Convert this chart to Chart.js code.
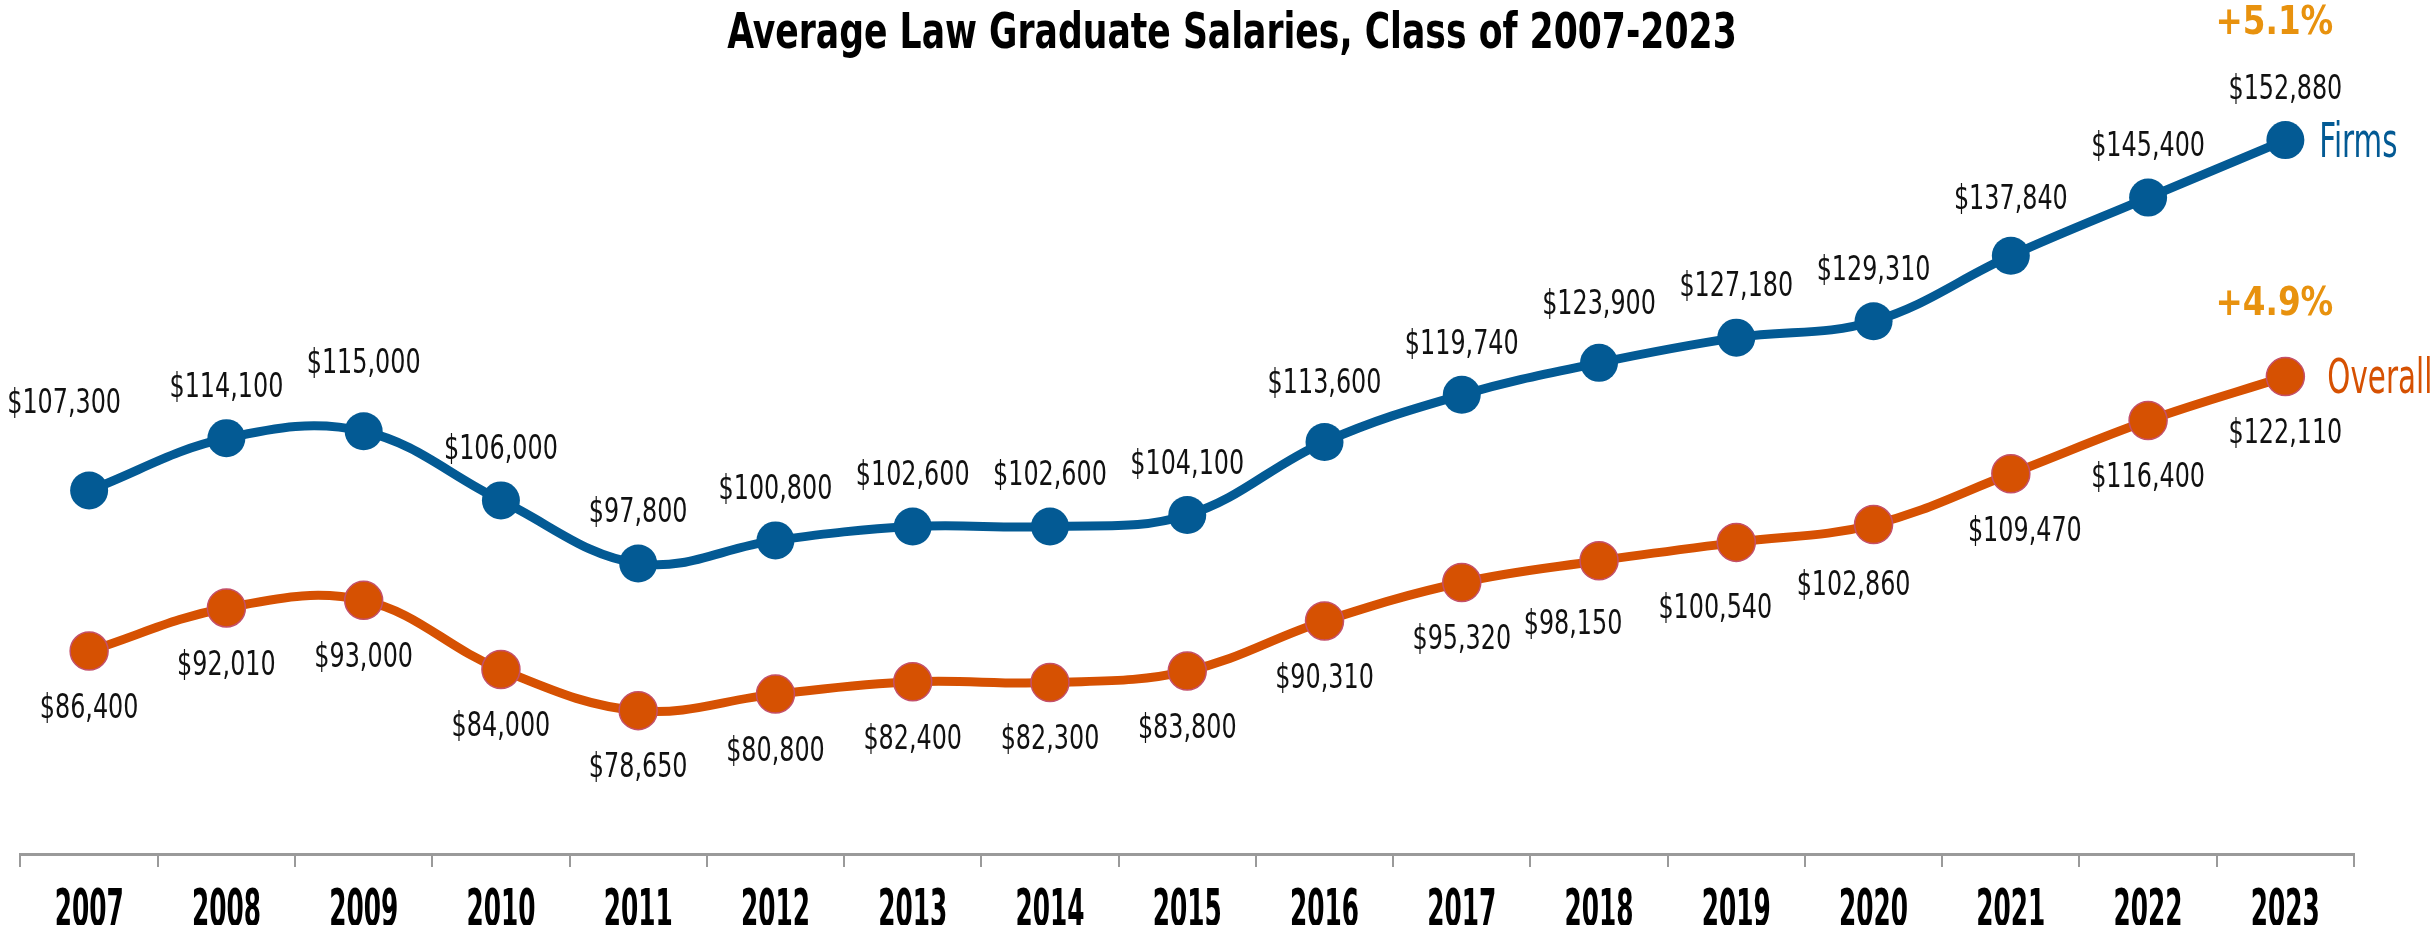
<!DOCTYPE html>
<html>
<head>
<meta charset="utf-8">
<script src="https://cdn.jsdelivr.net/npm/chart.js@4.4.1/dist/chart.umd.min.js"></script>
<style>
  html, body { margin: 0; padding: 0; background: #fff; }
  canvas { display: block; }
</style>
</head>
<body>
<canvas id="salaryChart" width="2432" height="925"></canvas>
<script>
// data
const years = ['2007', '2008', '2009', '2010', '2011', '2012', '2013', '2014', '2015',
               '2016', '2017', '2018', '2019', '2020', '2021', '2022', '2023'];
const firmsSalaries = [107300, 114100, 115000, 106000, 97800, 100800, 102600, 102600, 104100,
                       113600, 119740, 123900, 127180, 129310, 137840, 145400, 152880];
const overallSalaries = [86400, 92010, 93000, 84000, 78650, 80800, 82400, 82300, 83800,
                         90310, 95320, 98150, 100540, 102860, 109470, 116400, 122110];
const seriesNames = ['Firms', 'Overall'];
const chartTitle = 'Average Law Graduate Salaries, Class of 2007-2023';

const BLUE = '#035A94';
const ORANGE = '#D65102';
const GOLD = '#E8920E';
const NARROW = "'Liberation Sans Narrow', 'DejaVu Sans Condensed', sans-serif";

// small hand tweaks so labels sit like in the original (dx, dy in px)
const labelNudge = [
    { 0: [-25, -36], 2: [0, -17], 9: [0, -8], 11: [0, -8], 14: [0, -6] },
    { 11: [-26, 6], 12: [-21, 9], 13: [-20, 4], 14: [14, 0] }
];

function money(v) {
    return '$' + v.toLocaleString('en-US');
}

function lastGrowth(arr) {
    let n = arr.length;
    let pct = (arr[n - 1] / arr[n - 2] - 1) * 100;
    return '+' + pct.toFixed(1) + '%';
}

// the original uses a very condensed face, so squeeze the text horizontally
function narrowText(ctx, text, x, y, sx) {
    ctx.save();
    ctx.translate(x, y);
    ctx.scale(sx, 1);
    ctx.fillText(text, 0, 0);
    ctx.restore();
}

const labelPlugin = {
    id: 'salaryLabels',
    afterDraw(chart) {
        const ctx = chart.ctx;
        ctx.save();
        ctx.textBaseline = 'middle';

        chart.data.datasets.forEach((ds, di) => {
            const meta = chart.getDatasetMeta(di);

            // value labels: firms above the points, overall below
            ctx.font = 'normal 34px ' + NARROW;
            ctx.fillStyle = '#111';
            ctx.textAlign = 'center';
            meta.data.forEach((pt, i) => {
                let dy = di === 0 ? -50 : 58;
                let dx = 0;
                let n = labelNudge[di][i];
                if (n) { dx += n[0]; dy += n[1]; }
                narrowText(ctx, money(ds.data[i]), pt.x + dx, pt.y + dy, 0.78);
            });

            // series name next to the last point
            const last = meta.data[meta.data.length - 1];
            ctx.font = 'normal 48px ' + NARROW;
            ctx.fillStyle = ds.borderColor;
            ctx.textAlign = 'left';
            narrowText(ctx, seriesNames[di], last.x + (di === 0 ? 34 : 42), last.y + 4, 0.68);

            // last year growth
            ctx.font = 'bold 39px ' + NARROW;
            ctx.fillStyle = GOLD;
            ctx.textAlign = 'center';
            narrowText(ctx, lastGrowth(ds.data), last.x - 11, last.y - (di === 0 ? 116 : 72), 0.93);
        });

        // year labels under the axis
        const xs = chart.scales.x;
        ctx.font = 'bold 52px ' + NARROW;
        ctx.fillStyle = '#000';
        ctx.textAlign = 'center';
        years.forEach((yr, i) => {
            narrowText(ctx, yr, xs.getPixelForValue(i), xs.top + 58, 0.53);
        });

        // title
        ctx.font = 'bold 50px ' + NARROW;
        narrowText(ctx, chartTitle, 1232, 35, 0.77);

        ctx.restore();
    }
};

const data = {
    labels: years,
    datasets: [{
        label: seriesNames[0],
        data: firmsSalaries,
        borderColor: BLUE,
        backgroundColor: BLUE,
        pointBackgroundColor: BLUE,
        pointBorderColor: BLUE,
        pointBorderWidth: 0,
        borderWidth: 9,
        pointRadius: 19,
        tension: 0.38
    }, {
        label: seriesNames[1],
        data: overallSalaries,
        borderColor: ORANGE,
        backgroundColor: ORANGE,
        pointBackgroundColor: ORANGE,
        pointBorderColor: '#C4506A',
        pointBorderWidth: 1.5,
        borderWidth: 9,
        pointRadius: 19,
        tension: 0.38
    }]
};

const config = {
    type: 'line',
    data: data,
    plugins: [labelPlugin],
    options: {
        responsive: false,
        animation: false,
        devicePixelRatio: 1,
        layout: { padding: { top: 60, left: 16, right: 78, bottom: 58 } },
        plugins: {
            legend: { display: false },
            title: { display: false },
            tooltip: { enabled: false }
        },
        scales: {
            x: {
                offset: true,
                grid: {
                    offset: true,
                    drawOnChartArea: false,
                    drawTicks: true,
                    tickLength: 13,
                    color: '#9a9a9a',
                    lineWidth: 2
                },
                border: { display: true, color: '#9a9a9a', width: 3 },
                ticks: { display: false }
            },
            y: {
                display: false,
                min: 60000,
                max: 163300
            }
        }
    }
};

let ctx = document.getElementById('salaryChart').getContext('2d');
new Chart(ctx, config);
</script>
</body>
</html>
